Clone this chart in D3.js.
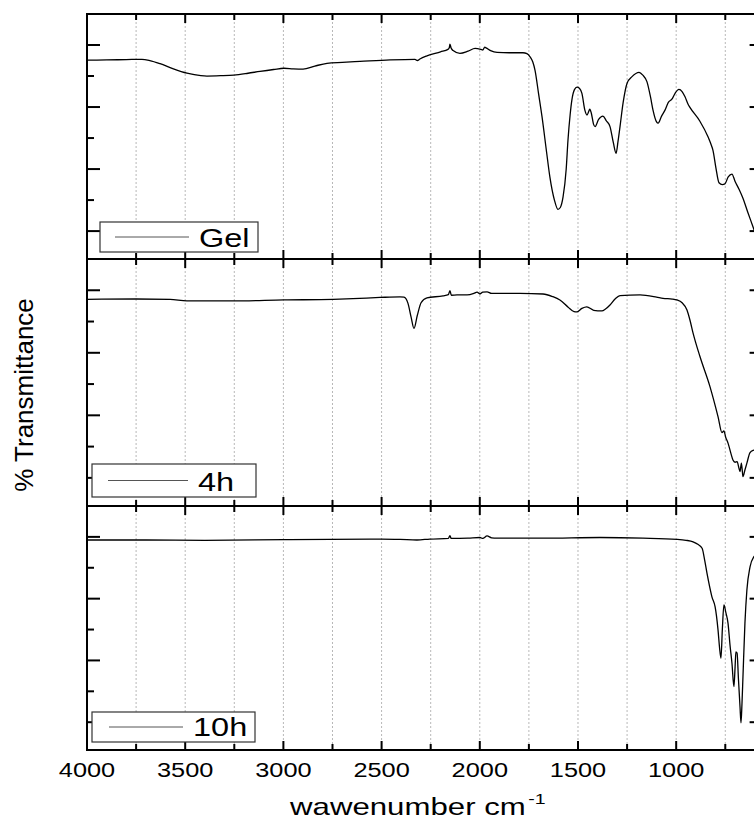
<!DOCTYPE html>
<html>
<head>
<meta charset="utf-8">
<script src="https://cdn.jsdelivr.net/npm/d3@7"></script>
<style>
  html, body { margin: 0; padding: 0; background: #fff; }
  svg { display: block; }
  text { font-family: "Liberation Sans", Arial, Helvetica, sans-serif; fill: #000; }
</style>
</head>
<body>
<svg id="chart" width="754" height="823"></svg>
<script>
// FTIR spectra: gel precursor and samples annealed for 4 h and 10 h
const sampleNames = ["Gel", "4h", "10h"];

const gelWave = [4000,3900,3800,3720,3680,3628,3560,3491,3420,3389,3320,3252,3180,3119,3050,2997,2950,2900,2840,2778,2700,2610,2457,2330,2318,2305,2269,2200,2162,2155,2152,2146,2136,2101,2060,2024,1995,1984,1975,1968,1945,1912,1850,1780,1760,1744,1730,1719,1700,1683,1660,1643,1620,1602,1590,1576,1560,1551,1540,1531,1518,1505,1492,1480,1465,1454,1447,1440,1432,1421,1413,1395,1373,1355,1337,1320,1306,1296,1286,1270,1250,1225,1189,1170,1149,1130,1118,1100,1092,1075,1057,1040,1021,1005,986,970,955,940,930,880,838,820,813,798,782,765,752,735,716,700,680,660,635,609,580];
const gelT = [75.1,75.2,75.3,75.4,75.0,74.0,72.3,70.9,70.1,70.0,70.1,70.3,70.9,71.5,72.1,72.5,72.3,72.2,73.2,74.1,74.4,74.7,75.2,75.4,75.0,75.5,76.5,77.8,78.6,79.2,80.3,79.0,78.2,77.3,78.0,78.9,78.6,78.4,79.3,79.1,78.2,77.6,77.5,77.5,77.2,76.2,74.5,71.9,64.0,56.8,45.5,37.4,30.0,27.0,27.6,31.0,40.0,49.3,57.5,62.3,65.6,66.4,66.0,64.4,59.0,57.4,58.3,59.3,58.0,54.5,53.7,56.0,57.1,55.5,53.7,48.5,45.1,49.0,53.7,61.5,67.7,69.8,71.2,70.3,68.2,63.0,59.0,55.2,54.8,57.0,59.0,61.5,62.6,64.5,65.7,65.0,63.3,61.0,59.9,55.5,50.4,47.5,46.1,40.5,35.6,35.0,35.2,37.5,38.4,36.0,33.5,30.6,26.0,21.4,16.0];

const h4Wave = [4000,3750,3577,3491,3257,2997,2747,2646,2508,2406,2386,2366,2350,2335,2318,2299,2269,2187,2160,2152,2145,2116,2065,2030,2014,1999,1985,1963,1940,1912,1795,1678,1630,1592,1550,1520,1505,1480,1455,1420,1378,1360,1337,1310,1286,1184,1100,1067,1020,996,970,945,930,914,879,828,787,767,757,748,736,720,711,700,690,680,675,668,663,660,650,640,624,604,580];
const h4T = [77.1,77.2,77.1,76.6,76.6,76.9,77.1,77.3,77.7,77.9,77.8,75.9,71.5,67.8,72.0,76.0,77.6,78.2,78.6,79.9,78.4,78.5,78.5,79.0,79.4,78.8,79.4,79.5,79.0,79.0,79.0,78.8,78.0,76.9,74.6,73.2,73.1,74.2,74.7,73.6,73.4,74.0,75.3,77.3,78.3,78.5,77.8,77.4,77.2,76.9,76.0,73.7,70.5,66.3,58.8,49.2,39.6,34.5,35.0,33.0,31.1,27.5,25.7,25.0,25.2,23.0,22.0,24.7,22.0,20.4,22.5,24.7,28.1,28.9,29.3];

const h10Wave = [4000,3700,3400,3000,2500,2406,2320,2254,2160,2152,2146,2060,1999,1985,1963,1940,1912,1678,1388,1169,996,950,914,890,868,855,843,830,818,802,795,787,779,772,765,757,747,736,726,716,706,700,696,690,683,675,670,665,660,650,640,624,604,580];
const h10T = [79.0,79.0,78.9,79.1,79.3,79.2,79.0,79.3,79.5,80.4,79.5,79.6,79.8,79.5,80.3,79.7,79.6,79.6,79.8,79.6,79.2,78.9,78.4,77.6,76.3,72.5,68.2,64.0,60.6,57.4,54.5,49.9,44.0,40.7,50.0,58.0,55.5,52.0,45.0,39.1,31.5,38.0,42.8,42.4,34.0,25.0,19.8,26.0,34.7,52.0,62.8,70.3,73.6,74.8];

const xMajorTicks = [4000, 3500, 3000, 2500, 2000, 1500, 1000];
const xMinorTicks = [3750, 3250, 2750, 2250, 1750, 1250, 750];
const yMajorTicks = [20, 40, 60, 80];
const yMinorTicks = [30, 50, 70];

const series = [
  { name: sampleNames[0], wave: gelWave, t: gelT },
  { name: sampleNames[1], wave: h4Wave, t: h4T },
  { name: sampleNames[2], wave: h10Wave, t: h10T }
];

const svg = d3.select("#chart");
const W = 754, H = 823;
const left = 87, right = 762.6;
const panelTop = [14, 259, 506];
const panelBottom = [259, 506, 750];
const SX = 1.3; // horizontal stretch of lettering

const x = d3.scaleLinear().domain([4000, 560]).range([left, right]);

svg.append("rect").attr("width", W).attr("height", H).attr("fill", "#fff");

function wideText(parent, px, py, str, size, anchor) {
  const g = parent.append("g").attr("transform", `translate(${px},${py}) scale(${SX},1)`);
  return g.append("text").attr("x", 0).attr("y", 0)
    .attr("font-size", size).attr("text-anchor", anchor || "start").text(str);
}

const legendBoxes = [
  { x: 100, y: 222, w: 158, h: 30, l1: 115, l2: 189, tx: 199, ty: 247 },
  { x: 92, y: 464, w: 164, h: 33, l1: 108, l2: 188, tx: 198, ty: 491 },
  { x: 92, y: 712, w: 163, h: 30, l1: 109, l2: 183, tx: 193, ty: 736 }
];

series.forEach((s, i) => {
  const top = panelTop[i], bottom = panelBottom[i];
  const y = d3.scaleLinear().domain([11, 90]).range([bottom, top]);
  const g = svg.append("g");

  const clipId = "clip" + i;
  svg.append("defs").append("clipPath").attr("id", clipId)
    .append("rect").attr("x", left).attr("y", top).attr("width", right - left).attr("height", bottom - top);

  // dotted vertical grid
  g.append("g").selectAll("line")
    .data(d3.range(3750, 560, -250))
    .join("line")
    .attr("x1", d => x(d)).attr("x2", d => x(d))
    .attr("y1", top).attr("y2", bottom)
    .attr("stroke", "#b8b8b8").attr("stroke-width", 1)
    .attr("stroke-dasharray", "2,2");

  // spectrum
  const pts = s.wave.map((w, k) => [w, s.t[k]]);
  const line = d3.line().x(d => x(d[0])).y(d => y(d[1])).curve(d3.curveMonotoneX);
  g.append("path").datum(pts)
    .attr("clip-path", `url(#${clipId})`)
    .attr("d", line).attr("fill", "none")
    .attr("stroke", "#000").attr("stroke-width", 1.3).attr("stroke-linejoin", "round");

  // frame
  g.append("rect").attr("x", left).attr("y", top)
    .attr("width", right - left).attr("height", bottom - top)
    .attr("fill", "none").attr("stroke", "#000").attr("stroke-width", 2);

  // x ticks, inward on top and bottom edges
  const xt = g.append("g").attr("stroke", "#000").attr("stroke-width", 2);
  xMajorTicks.concat(xMinorTicks).forEach(v => {
    const len = xMajorTicks.includes(v) ? 9 : 6;
    xt.append("line").attr("x1", x(v)).attr("x2", x(v)).attr("y1", top).attr("y2", top + len);
    xt.append("line").attr("x1", x(v)).attr("x2", x(v)).attr("y1", bottom).attr("y2", bottom - len);
  });

  // y ticks, inward on left and right edges
  const yt = g.append("g").attr("stroke", "#000").attr("stroke-width", 2);
  yMajorTicks.concat(yMinorTicks).forEach(v => {
    const len = yMajorTicks.includes(v) ? 13 : 7;
    yt.append("line").attr("x1", left).attr("x2", left + len).attr("y1", y(v)).attr("y2", y(v));
    yt.append("line").attr("x1", right).attr("x2", right - len).attr("y1", y(v)).attr("y2", y(v));
  });

  // legend
  const lb = legendBoxes[i];
  g.append("rect").attr("x", lb.x).attr("y", lb.y).attr("width", lb.w).attr("height", lb.h)
    .attr("fill", "#fff").attr("stroke", "#333").attr("stroke-width", 1.2);
  g.append("line").attr("x1", lb.l1).attr("x2", lb.l2)
    .attr("y1", lb.y + lb.h / 2).attr("y2", lb.y + lb.h / 2)
    .attr("stroke", "#555").attr("stroke-width", 1);
  wideText(g, lb.tx, lb.ty, s.name, 25, "start");
});

// x tick labels
xMajorTicks.forEach(v => wideText(svg, x(v), 777, String(v), 19.5, "middle"));

// x axis title with superscript
{
  const t = wideText(svg, 290, 815, "wawenumber cm", 24, "start");
  t.append("tspan").attr("dx", 2).attr("dy", -11).attr("font-size", 15).text("-1");
}

// y axis title
svg.append("text")
  .attr("transform", "translate(33,395) rotate(-90)")
  .attr("text-anchor", "middle")
  .attr("font-size", 26)
  .text("% Transmittance");
</script>
</body>
</html>
